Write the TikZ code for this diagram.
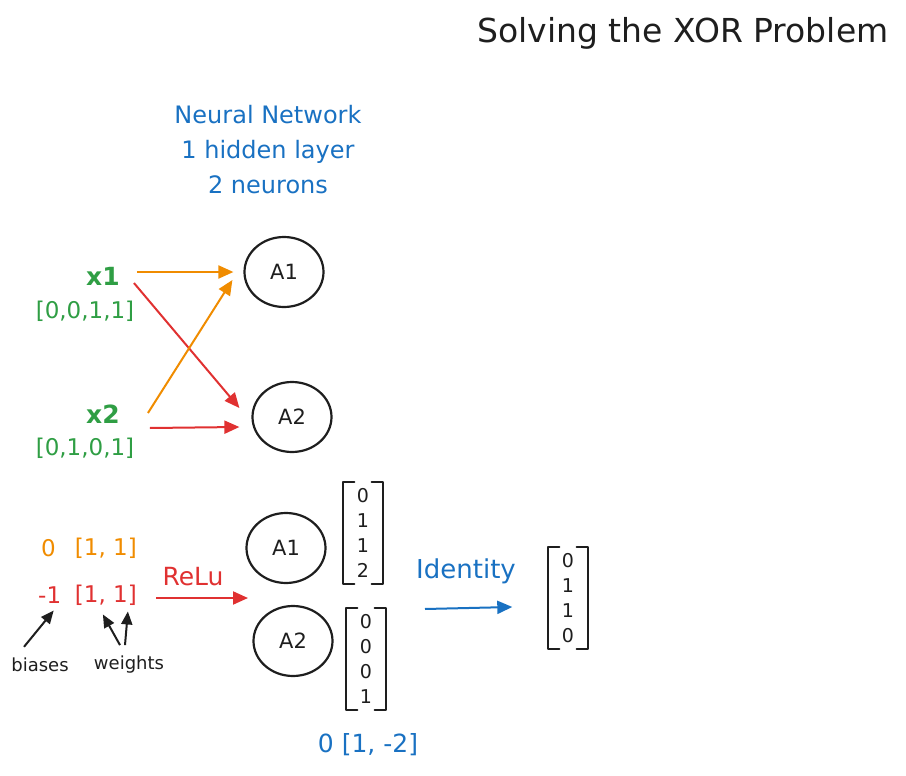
\documentclass[tikz,border=0pt]{standalone}
\usepackage{fontspec}
\setmainfont{DejaVu Sans}
\usetikzlibrary{arrows.meta,shapes.geometric,calc}
\definecolor{cOr}{HTML}{F08C00}
\definecolor{cRd}{HTML}{E03131}
\definecolor{cGn}{HTML}{2F9E44}
\definecolor{cBl}{HTML}{1971C2}
\definecolor{cBk}{HTML}{1E1E1E}
\begin{document}
\begin{tikzpicture}[x=1pt,y=-1pt,
  txt/.style={inner sep=1pt, text=cBk},
  neuron/.style={draw=cBk, line width=2.2pt, ellipse, minimum width=79pt, minimum height=70pt, inner sep=0pt, font=\fontsize{21}{24}\selectfont, text=cBk},
  arr/.style={line width=2pt, -{Triangle[length=15pt,width=13pt]}},
  warr/.style={line width=2pt, -{Triangle[length=13pt,width=11pt]}, cBk},
  vec/.style={minimum width=39pt, minimum height=101pt, inner sep=0pt, align=center, font=\fontsize{19}{25}\selectfont, text=cBk},
  brk/.style={draw=cBk, line width=2pt, line cap=round, line join=round}
]
\useasboundingbox (0,0) rectangle (906,776);

% title
\node[txt, font=\fontsize{33}{36}\selectfont] (title) at (683,33) {Solving the XOR Problem};
\node[txt, text=cBl, align=center, font=\fontsize{24}{35}\selectfont] (nn) at (268,150) {Neural Network\\1 hidden layer\\2 neurons};

% inputs
\node[txt, text=cGn, font=\bfseries\fontsize{25}{28}\selectfont] (x1) at (103,276) {x1};
\node[txt, text=cGn, font=\fontsize{23}{27}\selectfont] (x1v) at (85,311) {[0,0,1,1]};
\node[txt, text=cGn, font=\bfseries\fontsize{25}{28}\selectfont] (x2) at (103,414) {x2};
\node[txt, text=cGn, font=\fontsize{23}{27}\selectfont] (x2v) at (85,448) {[0,1,0,1]};

% hidden neurons (top)
\node[neuron] (A1) at (284,272) {A1};
\node[neuron] (A2) at (292,417) {A2};

\draw[arr, cOr] ($(x1.east)+(16,-4)$) -- ($(A1.west)+(-10,0)$);
\draw[arr, cRd] ($(x1.east)+(13,7)$) -- ($(A2.west)+(-12,-9)$);
\draw[arr, cOr] ($(x2.east)+(27,-1)$) -- ($(A1.west)+(-11,8)$);
\draw[arr, cRd] ($(x2.east)+(29,14)$) -- ($(A2.west)+(-12,10)$);

% biases and weights
\node[txt, text=cOr, anchor=west, font=\fontsize{23}{26}\selectfont] (b1) at (40,548) {0};
\node[txt, text=cOr, anchor=east, font=\fontsize{23}{26}\selectfont] (w1) at (138,548) {[1, 1]};
\node[txt, text=cRd, anchor=west, font=\fontsize{23}{26}\selectfont] (b2) at (37,595) {-1};
\node[txt, text=cRd, anchor=east, font=\fontsize{23}{26}\selectfont] (w2) at (138,595) {[1, 1]};

\node[txt, font=\fontsize{18}{20}\selectfont] (biases) at (40,665) {biases};
\node[txt, font=\fontsize{18}{20}\selectfont] (weights) at (129,665) {weights};

\draw[warr] ($(biases.north)+(-16,-10)$) -- ($(b2.south)+(4,6)$);
\draw[warr] ($(weights.north)+(-9,-10)$) -- ($(w2.south)+(-3,8)$);
\draw[warr] ($(weights.north)+(-4,-10)$) -- ($(w2.south)+(22,5)$);

% ReLu
\node[txt, text=cRd, font=\fontsize{25}{28}\selectfont] (relu) at (193,577) {ReLu};
\coordinate (hin) at (248,598);
\draw[arr, cRd] ($(w2.east)+(18,3)$) -- (hin);

% hidden neurons (bottom)
\node[neuron] (A1b) at (286,548) {A1};
\node[neuron] (A2b) at (293,641) {A2};

% vectors
\node[vec] (m1) at (363,533) {0\\1\\1\\2};
\node[vec, minimum height=102pt] (m2) at (366,659) {0\\0\\0\\1};
\node[vec] (m3) at (568,598) {0\\1\\1\\0};
\foreach \m in {m1,m2,m3}{
  \draw[brk] ([xshift=11pt]\m.north west) -- (\m.north west) -- (\m.south west) -- ([xshift=11pt]\m.south west);
  \draw[brk] ([xshift=-11pt]\m.north east) -- (\m.north east) -- (\m.south east) -- ([xshift=-11pt]\m.south east);
}

\node[txt, text=cBl, font=\fontsize{25}{28}\selectfont] (outw) at (368,745) {0 [1, -2]};

% identity
\node[txt, text=cBl, font=\fontsize{26}{29}\selectfont] (iden) at (466,571) {Identity};
\coordinate (idS) at (425,609);
\draw[arr, cBl] (idS) -- ($(m3.west)+(-36,9)$);
\end{tikzpicture}
\end{document}
